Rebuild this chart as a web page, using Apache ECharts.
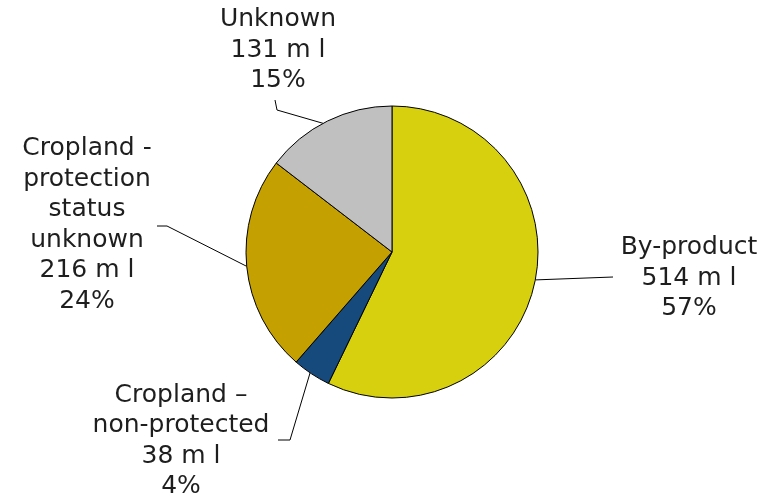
<!DOCTYPE html>
<html><head><meta charset="utf-8">
<script src="https://cdn.jsdelivr.net/npm/echarts@6/dist/echarts.min.js"></script>
<style>html,body{margin:0;padding:0;background:#fff}#c{width:775px;height:499px}</style>
</head><body><div id="c"></div>
<script>
const categories = ['By-product', 'Cropland –\nnon-protected', 'Cropland -\nprotection\nstatus\nunknown', 'Unknown'];
const values = [514, 38, 216, 131];
const units = ['m l', 'm l', 'm l', 'm l'];
const percents = ['57%', '4%', '24%', '15%'];

const colors = ['#D6D00E', '#174A7C', '#C4A000', '#C0C0C0'];
const CX = 392, CY = 252, R = 146;
// label block centres and line geometry (pixel layout, not data)
const labelPos = [[689, 278], [181, 441], [87, 225], [278, 50]];
const lineRef = [
  [[546, 282], [613, 277]],
  [[312, 370], [290, 440], [278, 440]],
  [[240, 267], [167, 226], [157, 226]],
  [[325, 127], [277, 110], [275, 100]]
];
function edge(p) {
  const a = Math.atan2(p[1] - CY, p[0] - CX);
  return [CX + R * Math.cos(a), CY + R * Math.sin(a)];
}
const chart = echarts.init(document.getElementById('c'));
chart.setOption({
  animation: false,
  series: [{
    type: 'pie',
    center: [CX, CY],
    radius: R,
    startAngle: 90,
    clockwise: true,
    avoidLabelOverlap: false,
    data: categories.map((c, i) => ({
      name: c, value: values[i],
      itemStyle: { color: colors[i] }
    })),
    itemStyle: { borderColor: '#000', borderWidth: 1 },
    label: {
      show: true,
      formatter: p => p.name + '\n' + values[p.dataIndex] + ' ' + units[p.dataIndex] + '\n' + percents[p.dataIndex],
      fontFamily: '"DejaVu Sans", Verdana, sans-serif',
      fontSize: 25,
      lineHeight: 30.5,
      color: '#1e1e1e',
      align: 'center'
    },
    labelLine: { show: true, lineStyle: { color: '#000', width: 1 } },
    labelLayout: function (params) {
      const i = params.dataIndex;
      const pts = lineRef[i].slice();
      pts[0] = edge(pts[0]);
      while (pts.length < 3) pts.push(pts[pts.length - 1]);
      return {
        x: labelPos[i][0], y: labelPos[i][1],
        align: 'center', verticalAlign: 'middle',
        labelLinePoints: pts
      };
    }
  }]
});
</script></body></html>
